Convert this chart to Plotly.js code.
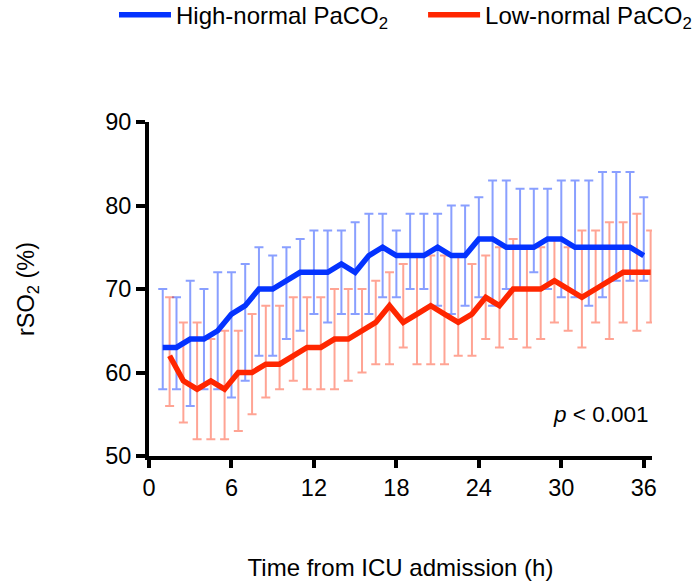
<!DOCTYPE html>
<html>
<head>
<meta charset="utf-8">
<script src="https://cdn.plot.ly/plotly-3.0.1.min.js"></script>
<style>html,body{margin:0;padding:0;background:#fff;}#chart{width:693px;height:581px;}</style>
</head>
<body>
<div id="chart"></div>
<script>
// Time points (h)
const highHours = [1,2,3,4,5,6,7,8,9,10,11,12,13,14,15,16,17,18,19,20,21,22,23,24,25,26,27,28,29,30,31,32,33,34,35,36];
const lowHours = [1.5,2.5,3.5,4.5,5.5,6.5,7.5,8.5,9.5,10.5,11.5,12.5,13.5,14.5,15.5,16.5,17.5,18.5,19.5,20.5,21.5,22.5,23.5,24.5,25.5,26.5,27.5,28.5,29.5,30.5,31.5,32.5,33.5,34.5,35.5,36.5];

// High-normal PaCO2: central value, upper and lower whisker ends
const highMid = [63,63,64,64,65,67,68,70,70,71,72,72,72,73,72,74,75,74,74,74,75,74,74,76,76,75,75,75,76,76,75,75,75,75,75,74];
const highUpper = [70,69,71,70,72,72,73,75,74,75,76,77,77,77,78,79,79,77,79,79,79,80,80,81,83,83,82,82,82,83,83,83,84,84,84,81];
const highLower = [58,58,56,58,58,57,59,62,62,64,65,67,66,67,67,67,69,69,70,70,68,67,68,69,68,70,70,72,70,69,69,68,69,71,71,71];

// Low-normal PaCO2
const lowMid = [62,59,58,59,58,60,60,61,61,62,63,63,64,64,65,66,68,66,67,68,67,66,67,69,68,70,70,70,71,70,69,70,71,72,72,72];
const lowUpper = [69,66,66,64,65,65,67,68,68,69,69,69,70,70,70,71,72,73,74,74,74,74,73,74,75,76,75,75,76,75,77,77,78,78,79,77];
const lowLower = [56,54,52,52,52,53,55,57,58,59,58,58,58,59,60,61,61,63,61,61,61,62,62,64,63,64,63,64,66,65,63,66,64,66,65,66];

const xTicks = [0,6,12,18,24,30,36];
const yTicks = [50,60,70,80,90];

const blue = '#0433ff', red = '#ff2600';
const blueErr = 'rgba(4,51,255,0.47)', redErr = 'rgba(255,38,0,0.42)';

const plus = (u, m) => u.map((v, i) => v - m[i]);
const minus = (l, m) => m.map((v, i) => v - l[i]);

const traces = [
  {x: highHours, y: highMid, type: 'scatter', mode: 'markers', marker: {size: 1, opacity: 0},
   showlegend: false, hoverinfo: 'skip',
   error_y: {type: 'data', symmetric: false, array: plus(highUpper, highMid), arrayminus: minus(highLower, highMid),
             color: blueErr, thickness: 2, width: 4.5}},
  {x: lowHours, y: lowMid, type: 'scatter', mode: 'markers', marker: {size: 1, opacity: 0},
   showlegend: false, hoverinfo: 'skip',
   error_y: {type: 'data', symmetric: false, array: plus(lowUpper, lowMid), arrayminus: minus(lowLower, lowMid),
             color: redErr, thickness: 2, width: 4.5}},
  {x: highHours, y: highMid, type: 'scatter', mode: 'lines', name: 'High-normal PaCO<sub>2</sub>',
   line: {color: blue, width: 5.5}, legend: 'legend'},
  {x: lowHours, y: lowMid, type: 'scatter', mode: 'lines', name: 'Low-normal PaCO<sub>2</sub>',
   line: {color: red, width: 5.5}, legend: 'legend2'}
];

const font = 'Liberation Sans, Arial, sans-serif';
const legendBase = {orientation: 'h', xref: 'container', yref: 'container', xanchor: 'left', y: 0.974, yanchor: 'middle',
                    font: {family: font, size: 24, color: '#000'}, itemwidth: 52, bgcolor: 'rgba(0,0,0,0)'};
const layout = {
  width: 693, height: 581,
  margin: {l: 149, r: 41, t: 122, b: 125},
  paper_bgcolor: '#fff', plot_bgcolor: '#fff',
  font: {family: font, size: 23, color: '#000'},
  showlegend: true,
  legend: Object.assign({}, legendBase, {x: 0.1645}),
  legend2: Object.assign({}, legendBase, {x: 0.6105}),
  xaxis: {range: [0, 36.6], tickvals: xTicks, ticktext: xTicks.map(String),
          showline: true, linecolor: '#000', linewidth: 4, ticks: 'outside', ticklen: 8, tickwidth: 4, tickcolor: '#000',
          showgrid: false, zeroline: false, tickfont: {size: 23.5}, fixedrange: true,
          title: {text: 'Time from ICU admission (h)', font: {size: 24}, standoff: 60}},
  yaxis: {range: [50, 90], tickvals: yTicks, ticktext: yTicks.map(String),
          showline: true, linecolor: '#000', linewidth: 4, ticks: 'outside', ticklen: 9, tickwidth: 4, tickcolor: '#000',
          showgrid: false, zeroline: false, tickfont: {size: 23.5}, fixedrange: true,
          title: {text: 'rSO<sub>2</sub> (%)', font: {size: 23.5}, standoff: 65}},
  annotations: [
    {xref: 'paper', yref: 'y', x: 0.997, y: 55, xanchor: 'right', yanchor: 'middle', showarrow: false,
     text: '<i>p</i> < 0.001', font: {size: 22.5, color: '#000'}}
  ]
};

Plotly.newPlot('chart', traces, layout, {displayModeBar: false, staticPlot: true});
</script>
</body>
</html>
